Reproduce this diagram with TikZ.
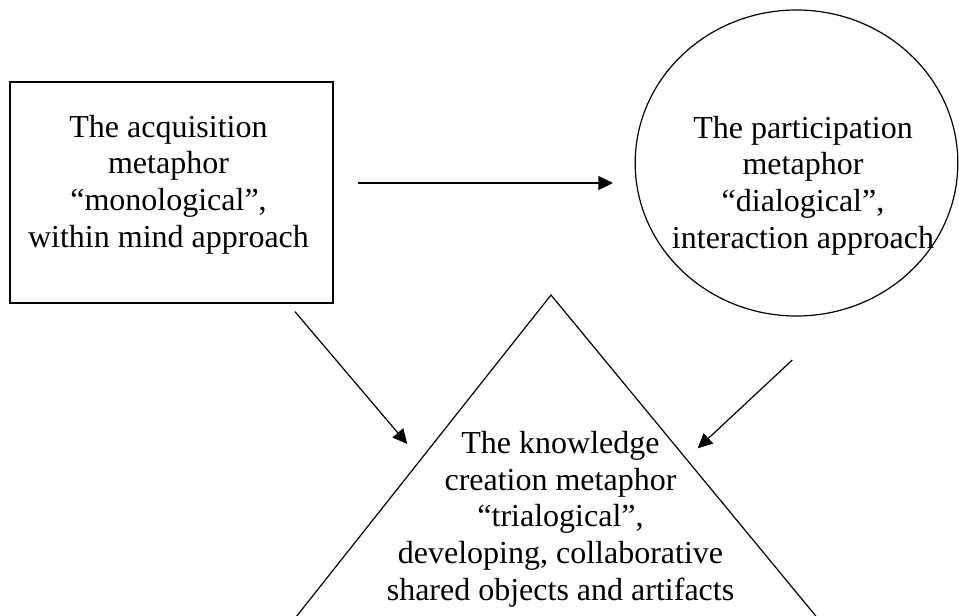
\documentclass[tikz,border=0pt]{standalone}
\usepackage{fontspec}
\setmainfont{Liberation Serif}
\usetikzlibrary{arrows.meta,shapes.geometric}
\begin{document}
\begin{tikzpicture}[x=0.75pt,y=-0.75pt,
  outline/.style={draw=black,line width=0.9pt,inner sep=0pt},
  caption/.style={align=center,inner sep=0pt,font=\fontsize{24pt}{27.5pt}\selectfont},
  flow/.style={line width=0.9pt,-{Triangle[length=11pt,width=10.5pt]}}]
\useasboundingbox (0,0) rectangle (959,616);
\clip (0,0) rectangle (959,616);

% the three metaphors
\node[outline,rectangle,minimum width=242.25pt,minimum height=165.75pt] (acq) at (171.5,192.5) {};
\node[outline,ellipse,minimum width=242pt,minimum height=229.5pt] (part) at (796.5,163) {};
\coordinate (apex) at (551,295);
\coordinate (baseL) at (277.8,640);
\coordinate (baseR) at (835.6,640);
\draw[line width=0.9pt,line join=miter] (baseL) -- (apex) -- (baseR);

% texts
\node[caption] (acqtext) at (168.5,184.5) {The acquisition\\metaphor\\“monological”,\\within mind approach};
\node[caption] (parttext) at (803,185.5) {The participation\\metaphor\\“dialogical”,\\interaction approach};
\node[caption] (kctext) at (560.5,519) {The knowledge\\creation metaphor\\“trialogical”,\\developing, collaborative\\shared objects and artifacts};

% connectors
\coordinate (s1) at (358,183);
\coordinate (e1) at (613,183);
\coordinate (s2) at (295,311.7);
\coordinate (e2) at (407.3,444);
\coordinate (s3) at (792.3,360);
\coordinate (e3) at (697.7,448.3);
\draw[flow] (s1) -- (e1);
\draw[flow] (s2) -- (e2);
\draw[flow] (s3) -- (e3);
\end{tikzpicture}
\end{document}
